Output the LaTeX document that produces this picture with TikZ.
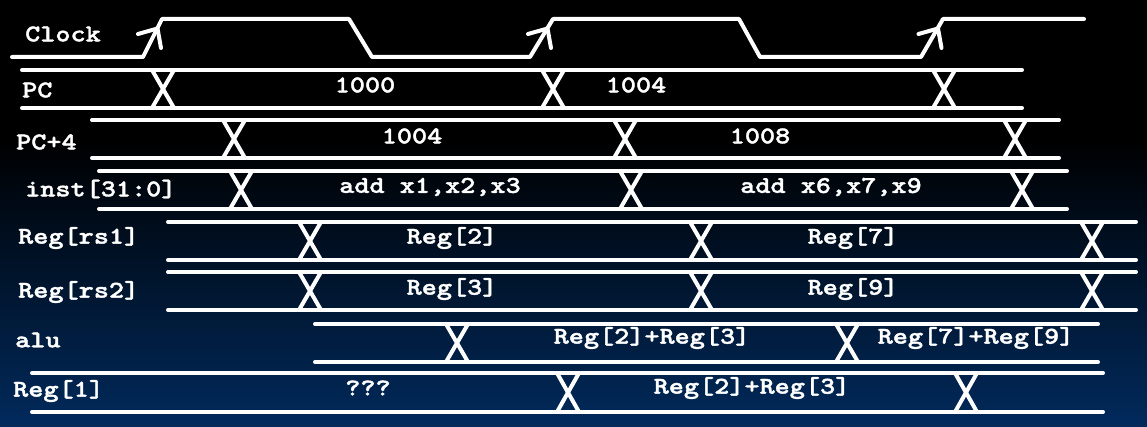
\documentclass[tikz,border=0pt]{standalone}
\usepackage{fontspec}
\newfontfamily\cour{lmmonolt10-bold.otf}[FakeStretch=1.2,FakeBold=1.6]
\usetikzlibrary{calc}
\definecolor{navy}{RGB}{1,42,92}
\definecolor{midnavy}{RGB}{4,22,48}
\tikzset{
  sig/.style={draw=white, line width=4pt, line cap=round, line join=round},
  lbl/.style={text=white, font=\cour\fontsize{24}{26}\selectfont, inner sep=0pt, anchor=west},
  val/.style={text=white, font=\cour\fontsize{24}{26}\selectfont, inner sep=0pt},
}
% bus: ytop, ybot, xstart, xend, list of crossing centres
\newcommand{\busrow}[5]{%
  \draw[sig] (#3,#1) -- (#4,#1);
  \draw[sig] (#3,#2) -- (#4,#2);
  \foreach \c in {#5} {
    \draw[sig, line cap=butt] (\c-11,#1) -- (\c+11,#2);
    \draw[sig, line cap=butt] (\c+11,#1) -- (\c-11,#2);
  }%
}
\begin{document}
\begin{tikzpicture}[x=1pt,y=-1pt]
\useasboundingbox (0,0) rectangle (1147,427);
\fill[black] (0,0) rectangle (1147,140);
\shade[top color=black, middle color=midnavy, bottom color=navy] (0,139) rectangle (1147,427);

% Clock
\draw[sig] (12,57) -- (143,57) -- (162,19) -- (349,19) -- (372,57) -- (530,57) -- (553,19) -- (739,19) -- (760,57) -- (921,57) -- (943,19) -- (1084,19);
\foreach \t in {157.5,547.5,938} {
  \draw[sig] (\t-19.5,34) -- (\t,28.5) -- (\t+3.5,48);
}
\node[lbl] (clk) at (25,34) {Clock};

% PC
\busrow{70}{108}{22}{1022}{163,553,944}
\node[lbl] (pc) at (22,90) {PC};
\node[val] (pc1) at (365,85) {1000};
\node[val] (pc2) at (636,85) {1004};

% PC+4
\busrow{120}{158}{92}{1059}{234,625,1015}
\node[lbl] (pc4) at (16,142) {PC+4};
\node[val] (pc41) at (412,136) {1004};
\node[val] (pc42) at (760,136) {1008};

% inst
\busrow{171}{209}{99}{1067}{241,631,1022}
\node[lbl] (inst) at (25,189) {inst[31:0]};
\node[val] (inst1) at (430,187) {add x1,x2,x3};
\node[val] (inst2) at (831,187) {add x6,x7,x9};

% Reg[rs1]
\busrow{222}{260}{168}{1136}{310,701,1092}
\node[lbl] (rs1) at (18,238) {Reg[rs1]};
\node[val] (rs1a) at (452,238) {Reg[2]};
\node[val] (rs1b) at (853,238) {Reg[7]};

% Reg[rs2]
\busrow{272}{310}{168}{1136}{310,701,1092}
\node[lbl] (rs2) at (18,292) {Reg[rs2]};
\node[val] (rs2a) at (452,289) {Reg[3]};
\node[val] (rs2b) at (853,289) {Reg[9]};

% alu
\busrow{324}{362}{315}{1098}{457,847}
\node[lbl] (alu) at (15,340) {alu};
\node[val] (alua) at (652,338) {Reg[2]+Reg[3]};
\node[val] (alub) at (976,338) {Reg[7]+Reg[9]};

% Reg[1]
\busrow{373}{412}{32}{1103}{568,966}
\node[lbl] (r1) at (13,391) {Reg[1]};
\node[val] (r1a) at (368,388) {???};
\node[val] (r1b) at (752,388) {Reg[2]+Reg[3]};
\end{tikzpicture}
\end{document}
